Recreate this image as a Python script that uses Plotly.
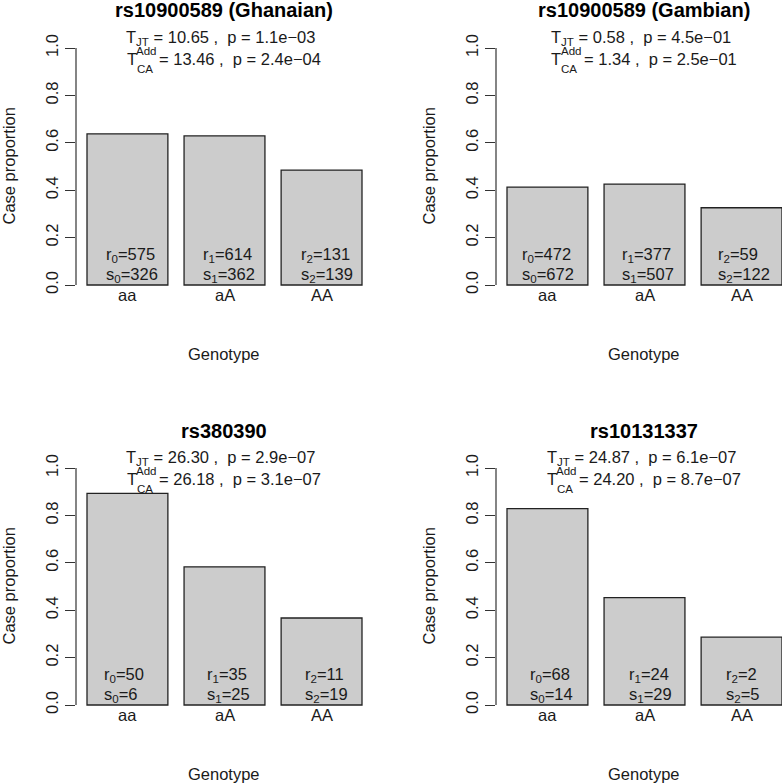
import plotly.graph_objects as go

# ---------------- data ----------------
genotypes = ["aa", "aA", "AA"]
titles = ["rs10900589 (Ghanaian)", "rs10900589 (Gambian)", "rs380390", "rs10131337"]
case_prop_ghanaian = [0.638, 0.629, 0.485]
case_prop_gambian = [0.413, 0.426, 0.326]
case_prop_rs380390 = [0.893, 0.583, 0.367]
case_prop_rs10131337 = [0.829, 0.453, 0.286]
r_ghanaian = [575, 614, 131]
s_ghanaian = [326, 362, 139]
r_gambian = [472, 377, 59]
s_gambian = [672, 507, 122]
r_rs380390 = [50, 35, 11]
s_rs380390 = [6, 25, 19]
r_rs10131337 = [68, 24, 2]
s_rs10131337 = [14, 29, 5]
t_jt = [10.65, 0.58, 26.30, 24.87]
p_jt = [1.1e-03, 4.5e-01, 2.9e-07, 6.1e-07]
t_ca = [13.46, 1.34, 26.18, 24.20]
p_ca = [2.4e-04, 2.5e-01, 3.1e-07, 8.7e-07]
yticks = [0.0, 0.2, 0.4, 0.6, 0.8, 1.0]
ytick_labels = ["0.0", "0.2", "0.4", "0.6", "0.8", "1.0"]

props = [case_prop_ghanaian, case_prop_gambian, case_prop_rs380390, case_prop_rs10131337]
rs = [r_ghanaian, r_gambian, r_rs380390, r_rs10131337]
ss = [s_ghanaian, s_gambian, s_rs380390, s_rs10131337]

# ---------------- layout helpers ----------------
W, H = 782, 784
FONT = "Liberation Sans, Arial, sans-serif"
FS = 16.5
SUBFS = 11.55
INK = "#1a1a1a"

def px(x):
    return x / W

def py(y):
    return 1 - y / H

ARIAL = {**{d: 0.556 for d in "0123456789"}, ".": 0.278, ",": 0.278, " ": 0.278,
         "\u00a0": 0.278, "=": 0.584, "\u2212": 0.584, "p": 0.556, "e": 0.556,
         "T": 0.611, "A": 0.667, "d": 0.556, "C": 0.722}

def tw(s, size):
    return sum(ARIAL.get(c, 0.556) for c in s) * size

def fmt_p(p):
    return f"{p:.1e}".replace("-", "\u2212")

# panel offsets (px)
offsets = [(0, 0), (420, 0), (0, 420), (420, 420)]
# label left offsets inside each bar (px from bar left edge)
label_dx = [[17, 17, 17.7], [13.3, 15.7, 15], [14.7, 21, 21.7], [20.7, 23, 22.7]]
BAR_HALF_PX = 40.5

fig = go.Figure()
annotations = []
shapes = []
layout_axes = {}

for i in range(4):
    ox, oy = offsets[i]
    n = i + 1
    sfx = "" if n == 1 else str(n)
    xa, ya = f"x{sfx}", f"y{sfx}"
    fig.add_trace(go.Bar(
        x=genotypes, y=props[i], width=1 / 1.2,
        marker=dict(color="#cccccc", line=dict(color="#222222", width=1.3)),
        xaxis=xa, yaxis=ya, hoverinfo="skip"))

    x0 = 76 + ox
    x1 = min(373 + ox, W)
    xr_hi = -0.53 + (x1 - x0) / 97.06
    layout_axes[f"xaxis{sfx}"] = dict(
        domain=[px(x0), px(x1)], range=[-0.53, xr_hi], type="category",
        categoryorder="array", categoryarray=genotypes, automargin=False,
        showticklabels=False, showgrid=False, zeroline=False, showline=False,
        ticks="", anchor=ya, fixedrange=True)
    layout_axes[f"yaxis{sfx}"] = dict(
        domain=[py(294.48 + oy), py(38.52 + oy)], range=[-0.04, 1.04], automargin=False,
        tickvals=yticks, ticktext=ytick_labels, tickangle=-90,
        ticks="outside", ticklen=10, tickwidth=1.2, tickcolor="#333333",
        tickfont=dict(family=FONT, size=FS, color=INK),
        showgrid=False, zeroline=False, showline=False, anchor=xa, fixedrange=True)

    # y axis line from 0 to 1
    shapes.append(dict(type="line", xref=f"{xa} domain", yref=ya, x0=0, x1=0, y0=0, y1=1,
                       line=dict(color="#333333", width=1.2)))

    # title
    annotations.append(dict(text=f"<b>{titles[i]}</b>", x=px(224 + ox), y=py(10.5 + oy),
                            xref="paper", yref="paper", xanchor="center", yanchor="middle",
                            showarrow=False, font=dict(family=FONT, size=20, color="#000")))
    # stat line 1
    line1 = f"T<sub>JT</sub> = {t_jt[i]:.2f} ,\u00a0 p = {fmt_p(p_jt[i])}"
    annotations.append(dict(text=line1, x=px(221 + ox), y=py(37.6 + oy),
                            xref="paper", yref="paper", xanchor="center", yanchor="middle",
                            showarrow=False, font=dict(family=FONT, size=FS, color=INK)))
    # stat line 2 (T with stacked sup/sub)
    main2 = f"= {t_ca[i]:.2f} ,\u00a0 p = {fmt_p(p_ca[i])}"
    wT = tw("T", FS)
    wS = max(tw("Add", SUBFS), tw("CA", SUBFS)) + 2
    wM = tw(main2, FS)
    left = 223 + ox - (wT + wS + wM) / 2
    annotations.append(dict(text="T", x=px(left), y=py(59.3 + oy), xref="paper", yref="paper",
                            xanchor="left", yanchor="middle", showarrow=False, borderpad=0,
                            font=dict(family=FONT, size=FS, color=INK)))
    annotations.append(dict(text="Add", x=px(left + wT - 0.5), y=py(51.3 + oy), xref="paper", yref="paper",
                            xanchor="left", yanchor="middle", showarrow=False, borderpad=0,
                            font=dict(family=FONT, size=SUBFS, color=INK)))
    annotations.append(dict(text="CA", x=px(left + wT), y=py(68.7 + oy), xref="paper", yref="paper",
                            xanchor="left", yanchor="middle", showarrow=False, borderpad=0,
                            font=dict(family=FONT, size=SUBFS, color=INK)))
    annotations.append(dict(text=main2, x=px(left + wT + wS), y=py(59.3 + oy), xref="paper", yref="paper",
                            xanchor="left", yanchor="middle", showarrow=False, borderpad=0,
                            font=dict(family=FONT, size=FS, color=INK)))

    # bar labels and x tick labels
    for j, g in enumerate(genotypes):
        dx = label_dx[i][j] - BAR_HALF_PX
        annotations.append(dict(text=f"r<sub>{j}</sub>={rs[i][j]}", x=g, xref=xa, xshift=dx,
                                y=py(254.5 + oy), yref="paper", xanchor="left", yanchor="middle",
                                showarrow=False, font=dict(family=FONT, size=FS, color=INK)))
        annotations.append(dict(text=f"s<sub>{j}</sub>={ss[i][j]}", x=g, xref=xa, xshift=dx,
                                y=py(274.5 + oy), yref="paper", xanchor="left", yanchor="middle",
                                showarrow=False, font=dict(family=FONT, size=FS, color=INK)))
        annotations.append(dict(text=g, x=g, xref=xa, y=py(295.3 + oy), yref="paper",
                                xanchor="center", yanchor="middle", showarrow=False,
                                font=dict(family=FONT, size=FS, color=INK)))

    # axis titles
    annotations.append(dict(text="Genotype", x=px(223.5 + ox), y=py(354.3 + oy), xref="paper", yref="paper",
                            xanchor="center", yanchor="middle", showarrow=False,
                            font=dict(family=FONT, size=FS, color=INK)))
    annotations.append(dict(text="Case proportion", x=px(8 + ox), y=py(166.5 + oy), xref="paper", yref="paper",
                            xanchor="center", yanchor="middle", textangle=-90, showarrow=False,
                            font=dict(family=FONT, size=FS, color=INK)))

fig.update_layout(
    width=W, height=H, margin=dict(l=0, r=0, t=0, b=0, autoexpand=False),
    paper_bgcolor="white", plot_bgcolor="white", showlegend=False,
    annotations=annotations, shapes=shapes, **layout_axes)

fig.write_html("out.html", config={"displayModeBar": False},
               post_script="document.body.style.margin='0';document.body.style.overflow='hidden';")
